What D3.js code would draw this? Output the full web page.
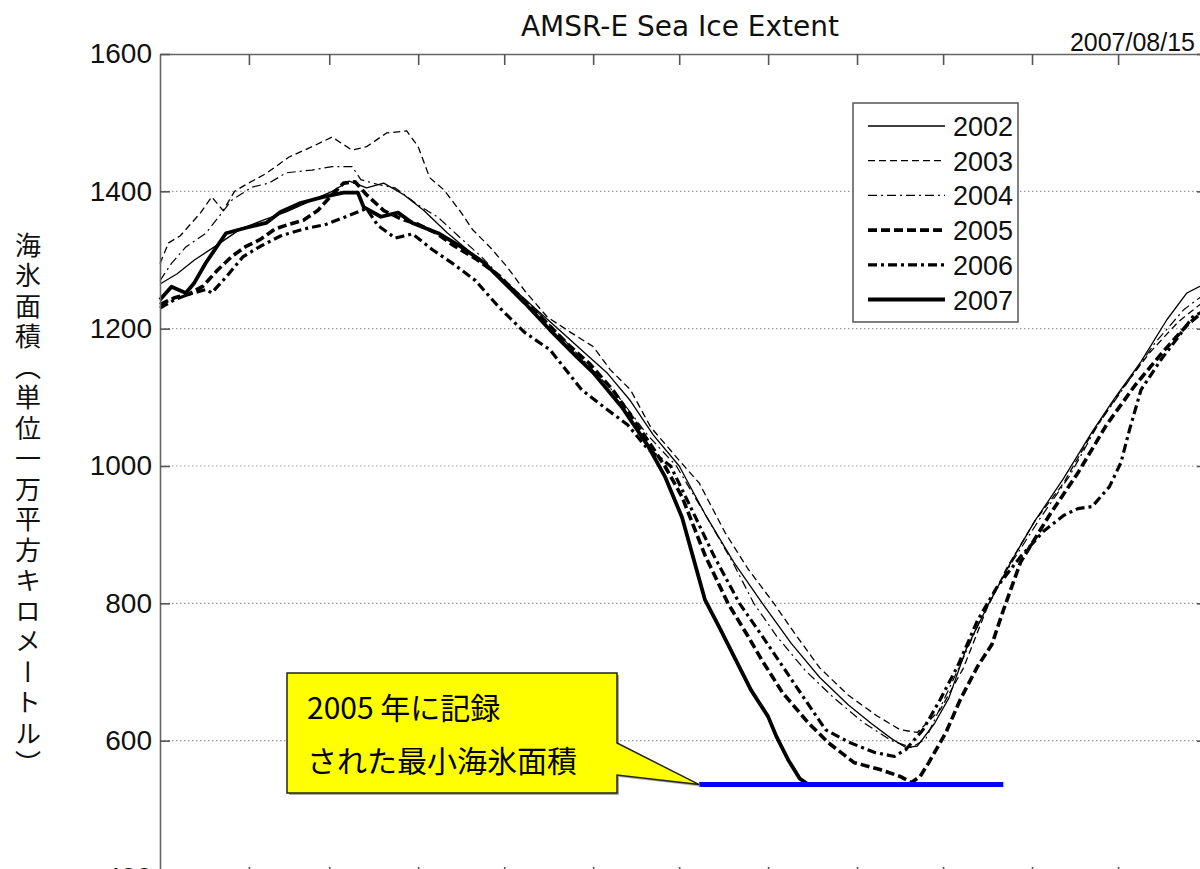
<!DOCTYPE html>
<html>
<head>
<meta charset="utf-8">
<script src="https://cdn.jsdelivr.net/npm/d3@7"></script>
<style>
  body { margin: 0; background: #fff; }
  svg { display: block; }
</style>
</head>
<body>
<div id="chart"></div>
<script>
// sea ice extent, units of 10^4 km2, [day of year, value]
const ice2002 = [[0,1265],[6,1280],[12,1300],[20,1322],[28,1345],[36,1358],[44,1370],[52,1385],[60,1400],[66,1415],[72,1405],[78,1412],[85,1395],[92,1372],[100,1340],[108,1312],[116,1285],[124,1255],[132,1225],[140,1195],[148,1165],[156,1135],[164,1095],[172,1045],[181,1000],[190,930],[200,860],[210,800],[220,742],[230,692],[240,652],[248,625],[255,603],[260,590],[264,592],[270,625],[275,662],[281,733],[289,800],[297,863],[305,920],[315,982],[325,1050],[333,1100],[342,1152],[351,1213],[358,1252],[364,1265]];
const ice2003 = [[0,1295],[3,1325],[7,1335],[14,1368],[18,1392],[22,1372],[26,1400],[30,1410],[37,1426],[45,1450],[53,1465],[60,1479],[67,1460],[72,1465],[79,1485],[86,1488],[90,1465],[94,1420],[99,1402],[105,1369],[109,1344],[115,1319],[121,1290],[127,1256],[135,1217],[143,1195],[151,1174],[157,1140],[164,1111],[171,1057],[180,1013],[188,975],[197,903],[205,850],[214,800],[222,752],[230,706],[240,666],[250,636],[258,616],[264,612],[272,645],[280,705],[288,790],[295,850],[305,920],[315,975],[325,1048],[335,1110],[345,1165],[355,1210],[364,1240]];
const ice2004 = [[0,1270],[4,1295],[9,1319],[16,1339],[25,1387],[32,1406],[38,1412],[44,1427],[53,1431],[60,1436],[67,1436],[70,1417],[76,1410],[82,1405],[90,1380],[97,1362],[104,1335],[112,1305],[120,1270],[128,1240],[136,1205],[144,1170],[152,1135],[160,1100],[170,1045],[180,1000],[190,930],[200,857],[207,800],[215,752],[225,702],[235,662],[245,627],[255,600],[262,590],[267,603],[272,648],[280,720],[288,795],[297,860],[307,925],[317,985],[327,1060],[337,1120],[347,1180],[357,1228],[364,1250]];
const ice2005 = [[0,1235],[5,1245],[10,1250],[15,1262],[20,1285],[25,1305],[30,1320],[35,1330],[40,1345],[45,1352],[50,1358],[55,1372],[60,1395],[64,1412],[68,1414],[72,1395],[78,1372],[84,1360],[90,1352],[96,1340],[102,1322],[110,1302],[118,1278],[126,1245],[134,1212],[142,1178],[150,1148],[158,1110],[166,1062],[172,1025],[176,1000],[182,955],[190,870],[198,800],[205,752],[210,716],[217,670],[226,626],[233,597],[242,568],[251,558],[258,548],[262,539],[265,548],[268,568],[274,612],[279,660],[285,708],[290,740],[294,790],[300,860],[310,928],[320,990],[330,1060],[340,1118],[350,1168],[358,1205],[364,1226]];
const ice2006 = [[0,1230],[5,1242],[10,1250],[16,1257],[18,1252],[23,1275],[29,1305],[35,1320],[42,1335],[50,1345],[58,1352],[66,1365],[72,1375],[76,1350],[82,1332],[88,1338],[95,1315],[102,1295],[110,1270],[118,1232],[127,1195],[136,1169],[147,1111],[155,1085],[163,1060],[170,1025],[178,1000],[185,940],[193,870],[202,800],[210,752],[220,690],[232,616],[240,598],[249,583],[256,577],[260,587],[266,616],[272,660],[278,708],[285,775],[292,825],[300,868],[308,905],[315,928],[320,938],[325,941],[331,970],[335,1005],[338,1053],[342,1111],[349,1155],[355,1188],[360,1217],[364,1226]];
const ice2007 = [[0,1242],[4,1261],[9,1252],[12,1267],[16,1296],[23,1339],[30,1347],[37,1354],[42,1370],[49,1383],[57,1392],[64,1398],[69,1398],[71,1377],[77,1363],[83,1369],[88,1354],[97,1339],[105,1319],[113,1296],[120,1267],[127,1238],[136,1198],[145,1160],[151,1136],[161,1086],[170,1030],[176,985],[182,925],[186,865],[190,805],[195,765],[199,732],[206,674],[212,635],[215,605],[219,572],[223,545],[226,536]];

const years = ["2002","2003","2004","2005","2006","2007"];
const seriesData = [ice2002, ice2003, ice2004, ice2005, ice2006, ice2007];
const yTicks = [400, 600, 800, 1000, 1200, 1400, 1600];
const monthStarts = [31, 59, 90, 120, 151, 181, 212, 243, 273, 304, 334];
const minValue2005 = 536;
const minLineDays = [188, 294];

// line styles per year
const styles = [
  {w: 1.3, dash: null},
  {w: 1.3, dash: "7,4"},
  {w: 1.2, dash: "9,4,2,4"},
  {w: 3.6, dash: "9,4"},
  {w: 3.2, dash: "9,4,3,4"},
  {w: 3.8, dash: null}
];

const W = 1200, H = 869;
const svg = d3.select("#chart").append("svg")
  .attr("width", W).attr("height", H);

const x = d3.scaleLinear().domain([0, 365]).range([160, 1207]);
const y = d3.scaleLinear().domain([400, 1600]).range([878, 54]);

// grid
svg.append("g")
  .selectAll("line")
  .data(yTicks.filter(v => v > 400 && v < 1600))
  .join("line")
  .attr("x1", x(0)).attr("x2", x(365))
  .attr("y1", d => y(d)).attr("y2", d => y(d))
  .attr("stroke", "#999").attr("stroke-width", 1.2)
  .attr("stroke-dasharray", "1.5,2.5");

const line = d3.line().x(d => x(d[0])).y(d => y(d[1]));

svg.append("g")
  .selectAll("path")
  .data(seriesData)
  .join("path")
  .attr("d", line)
  .attr("fill", "none")
  .attr("stroke", "#000")
  .attr("stroke-width", (d, i) => styles[i].w)
  .attr("stroke-dasharray", (d, i) => styles[i].dash)
  .attr("stroke-linejoin", "round");

// 2005 minimum
svg.append("line")
  .attr("x1", x(minLineDays[0])).attr("x2", x(minLineDays[1]))
  .attr("y1", y(minValue2005)).attr("y2", y(minValue2005))
  .attr("stroke", "#0000ff").attr("stroke-width", 5);

// axes
function styleAxis(g) {
  g.select(".domain").attr("stroke", "#666").attr("stroke-width", 1.6);
  g.selectAll(".tick line").attr("stroke", "#555").attr("stroke-width", 1.6);
  g.selectAll("text").attr("font-family", "Liberation Sans, Arial, sans-serif")
    .attr("font-size", 28).attr("fill", "#111");
}

svg.append("g").attr("transform", `translate(0,${y(1600)})`)
  .call(d3.axisTop(x).tickValues(monthStarts).tickSize(-11).tickSizeOuter(0).tickFormat(""))
  .call(styleAxis);
svg.append("g").attr("transform", `translate(0,${y(400)})`)
  .call(d3.axisBottom(x).tickValues(monthStarts).tickSize(-11).tickSizeOuter(0).tickFormat(""))
  .call(styleAxis);
svg.append("g").attr("transform", `translate(${x(0)},0)`)
  .call(d3.axisLeft(y).tickValues(yTicks).tickSize(-10).tickSizeOuter(0).tickPadding(8).tickFormat(d3.format("d")))
  .call(styleAxis);
svg.append("g").attr("transform", `translate(${x(365)},0)`)
  .call(d3.axisRight(y).tickValues(yTicks).tickSize(-10).tickSizeOuter(0).tickFormat(""))
  .call(styleAxis);

// title and date
svg.append("text")
  .attr("x", 680).attr("y", 36)
  .attr("text-anchor", "middle")
  .attr("font-family", "DejaVu Sans, sans-serif")
  .attr("font-size", 28)
  .attr("fill", "#111")
  .text("AMSR-E Sea Ice Extent");

svg.append("text")
  .attr("x", 1195).attr("y", 51)
  .attr("text-anchor", "end")
  .attr("font-family", "Liberation Sans, Arial, sans-serif")
  .attr("font-size", 25)
  .attr("fill", "#111")
  .text("2007/08/15");

// y label
svg.append("text")
  .attr("x", 28).attr("y", 232)
  .style("writing-mode", "vertical-rl")
  .attr("font-family", "Noto Sans CJK JP, sans-serif")
  .attr("font-size", 26)
  .attr("letter-spacing", 4.5)
  .attr("fill", "#111")
  .text("海氷面積（単位一万平方キロメートル）");

// legend
const lg = svg.append("g").attr("transform", "translate(853,103)");
lg.append("rect")
  .attr("width", 165).attr("height", 219)
  .attr("fill", "#fff").attr("stroke", "#555").attr("stroke-width", 1.5);
const rows = lg.selectAll("g.row").data(years).join("g")
  .attr("class", "row")
  .attr("transform", (d, i) => `translate(0,${23 + i * 34.7})`);
rows.append("line")
  .attr("x1", 15).attr("x2", 92)
  .attr("stroke", "#000")
  .attr("stroke-width", (d, i) => styles[i].w)
  .attr("stroke-dasharray", (d, i) => styles[i].dash);
rows.append("text")
  .attr("x", 100).attr("y", 10)
  .attr("font-family", "Liberation Sans, Arial, sans-serif")
  .attr("font-size", 27)
  .attr("fill", "#111")
  .text(d => d);

// callout
const tipX = x(minLineDays[0]), tipY = y(minValue2005);
const bx0 = 287, bx1 = 617, by0 = 673, by1 = 793;
const callout = `M${bx0},${by0} H${bx1} V${by1 - 50} L${tipX},${tipY} L${bx1},${by1 - 18} V${by1} H${bx0} Z`;
svg.append("path")
  .attr("d", callout)
  .attr("transform", "translate(2,2)")
  .attr("fill", "#aaa");
svg.append("path")
  .attr("d", callout)
  .attr("fill", "#ffff00").attr("stroke", "#222").attr("stroke-width", 1.5);
svg.append("text")
  .attr("x", 307).attr("y", 719)
  .attr("font-family", "Noto Sans CJK JP, sans-serif")
  .attr("font-size", 30)
  .attr("fill", "#000")
  .text("2005 年に記録");
svg.append("text")
  .attr("x", 307).attr("y", 772)
  .attr("font-family", "Noto Sans CJK JP, sans-serif")
  .attr("font-size", 30)
  .attr("fill", "#000")
  .text("された最小海氷面積");
</script>
</body>
</html>
